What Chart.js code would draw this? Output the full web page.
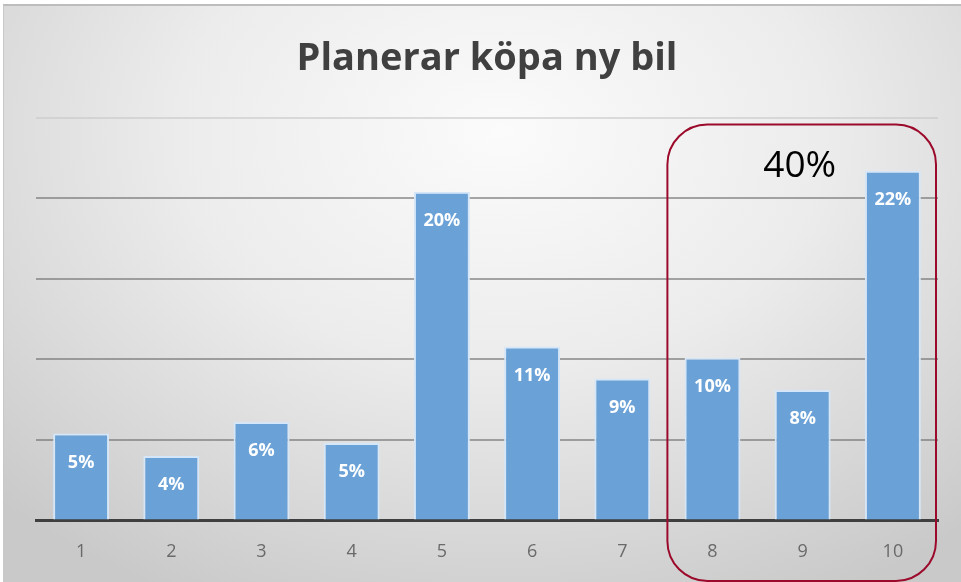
<!DOCTYPE html>
<html>
<head>
<meta charset="utf-8">
<script src="https://cdn.jsdelivr.net/npm/chart.js@4"></script>
<style>
  html, body { margin: 0; padding: 0; background: #fff; }
  #wrap {
    position: absolute; left: 3px; top: 4px; width: 958px; height: 578px;
    border-top: 2px solid #bdbdbd; border-left: 1px solid #c8c8c8;
    box-sizing: border-box;
    background: radial-gradient(ellipse 75% 90% at 52% 22%, #fbfbfb 0%, #ececec 45%, #d6d6d6 80%, #c9c9c9 100%);
  }
  #wrap canvas { position: absolute; left: -3px; top: -4px; }
</style>
</head>
<body>
<div id="wrap"><canvas id="chart" width="961" height="582"></canvas></div>
<script>
// data
const categories = ['1', '2', '3', '4', '5', '6', '7', '8', '9', '10'];
const values = [5.4, 4.0, 6.1, 4.8, 20.4, 10.8, 8.8, 10.1, 8.1, 21.7];
const valueLabels = ['5%', '4%', '6%', '5%', '20%', '11%', '9%', '10%', '8%', '22%'];
const yMax = 25;
const yStep = 5;
const highlightFrom = 7; // index of "8"
const highlightTo = 9;   // index of "10"
const highlightText = '40%';

// etiketter inne i staplarna
const barLabels = {
    id: 'barLabels',
    afterDatasetsDraw(chart) {
        const ctx = chart.ctx;
        const meta = chart.getDatasetMeta(0);
        ctx.save();
        ctx.fillStyle = '#ffffff';
        ctx.font = 'bold 18px "Open Sans", sans-serif';
        ctx.textAlign = 'center';
        ctx.textBaseline = 'middle';
        meta.data.forEach((bar, i) => {
            ctx.fillText(valueLabels[i], bar.x, bar.y + 29);
        });
        ctx.restore();
    }
};

// röd rundad ram runt 8-10
const highlightBox = {
    id: 'highlightBox',
    afterDraw(chart) {
        const ctx = chart.ctx;
        const x = chart.scales.x;
        const half = (x.getPixelForValue(1) - x.getPixelForValue(0)) / 2;
        const left = x.getPixelForValue(highlightFrom) - half;
        const right = x.getPixelForValue(highlightTo) + half - 2;
        const top = chart.chartArea.top + 7;
        const bottom = chart.height - 3;
        const r = 40;
        ctx.save();
        ctx.strokeStyle = '#9c0a2b';
        ctx.lineWidth = 2;
        ctx.beginPath();
        ctx.roundRect(left, top, right - left, bottom - top, r);
        ctx.stroke();
        ctx.fillStyle = '#000000';
        ctx.font = '37px "Open Sans", sans-serif';
        ctx.textAlign = 'center';
        ctx.textBaseline = 'middle';
        ctx.fillText(highlightText, (left + right) / 2 - 2, top + 42);
        ctx.restore();
    }
};

new Chart(document.getElementById('chart'), {
    type: 'bar',
    data: {
        labels: categories,
        datasets: [{
            data: values,
            backgroundColor: '#6aa1d6',
            borderColor: '#d4e6f7',
            borderWidth: 2,
            borderSkipped: 'bottom',
            barPercentage: 0.62,
            categoryPercentage: 1.0
        }]
    },
    plugins: [barLabels, highlightBox],
    options: {
        responsive: false,
        animation: false,
        layout: { padding: { left: 35, right: 24, top: 0, bottom: 8 } },
        plugins: {
            legend: { display: false },
            tooltip: { enabled: false },
            title: {
                display: true,
                text: 'Planerar köpa ny bil',
                color: '#404040',
                font: { family: '"Open Sans", sans-serif', size: 38, weight: 'bold' },
                padding: { top: 34, bottom: 36 }
            }
        },
        scales: {
            x: {
                grid: { display: false },
                border: { display: true, color: '#3f3f3f', width: 3 },
                ticks: { color: '#6a6a6a', font: { family: '"Open Sans", sans-serif', size: 18 }, padding: 13 }
            },
            y: {
                min: 0,
                max: yMax,
                ticks: { display: false, stepSize: yStep },
                grid: {
                    color: (c) => c.tick && c.tick.value === yMax ? 'rgba(200,200,200,0.6)' : 'rgba(110,110,110,0.6)',
                    lineWidth: 2,
                    drawTicks: false
                },
                border: { display: false }
            }
        }
    }
});
</script>
</body>
</html>
